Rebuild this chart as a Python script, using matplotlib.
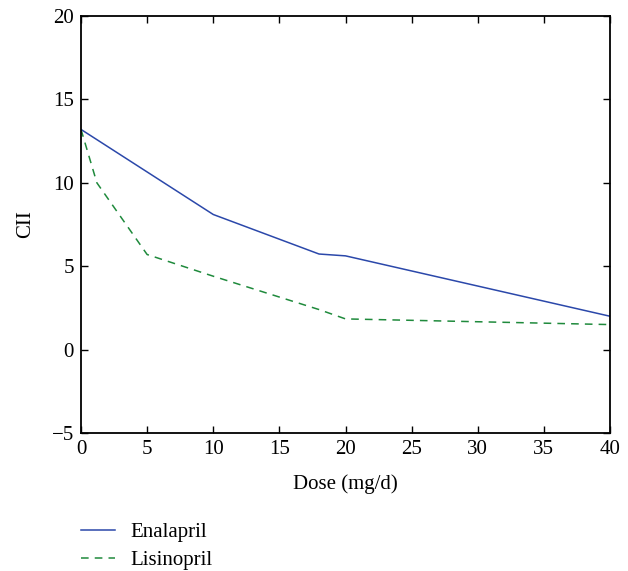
import numpy as np
import matplotlib.pyplot as plt

plt.rcParams['font.family'] = ['Liberation Serif', 'DejaVu Serif']
plt.rcParams['font.size'] = 15

# dose (mg/d) and CII values
enal_dose = [0, 10, 18, 20, 40]
enal_cii = [13.2, 8.1, 5.73, 5.62, 2.0]
lis_dose = [0, 1.2, 5, 10, 18, 20, 40]
lis_cii = [13.2, 10.0, 5.7, 4.4, 2.4, 1.84, 1.5]

xticks = [0, 5, 10, 15, 20, 25, 30, 35, 40]
yticks = [-5, 0, 5, 10, 15, 20]

fig = plt.figure(figsize=(6.28, 5.71), dpi=100)
ax = fig.add_axes([81/628, 1-433/571, (610-81)/628, (433-16)/571])

l1, = ax.plot(enal_dose, enal_cii, color='#2b48aa', lw=1.1, label='Enalapril')
l2, = ax.plot(lis_dose, lis_cii, color='#1f8a3c', lw=1.1, ls=(0, (5, 4)), label='Lisinopril')

ax.set_xlim(0, 40)
ax.set_ylim(-5, 20)
ax.set_xticks(xticks)
ax.set_yticks(yticks)
ax.set_yticklabels(['\u22125' if t == -5 else str(t) for t in yticks])
ax.tick_params(direction='in', top=True, right=True, length=5, width=1, pad=5)
for s in ax.spines.values():
    s.set_linewidth(1.3)

ax.set_xlabel('Dose (mg/d)', labelpad=11)
ax.set_ylabel('CII', labelpad=12)

fig.legend(handles=[l1, l2], loc='upper left', bbox_to_anchor=(73/628, 1-514/571),
           frameon=False, handlelength=1.63, handletextpad=0.72, labelspacing=0.4,
           borderaxespad=0)

fig.savefig('out.png', dpi=100)
